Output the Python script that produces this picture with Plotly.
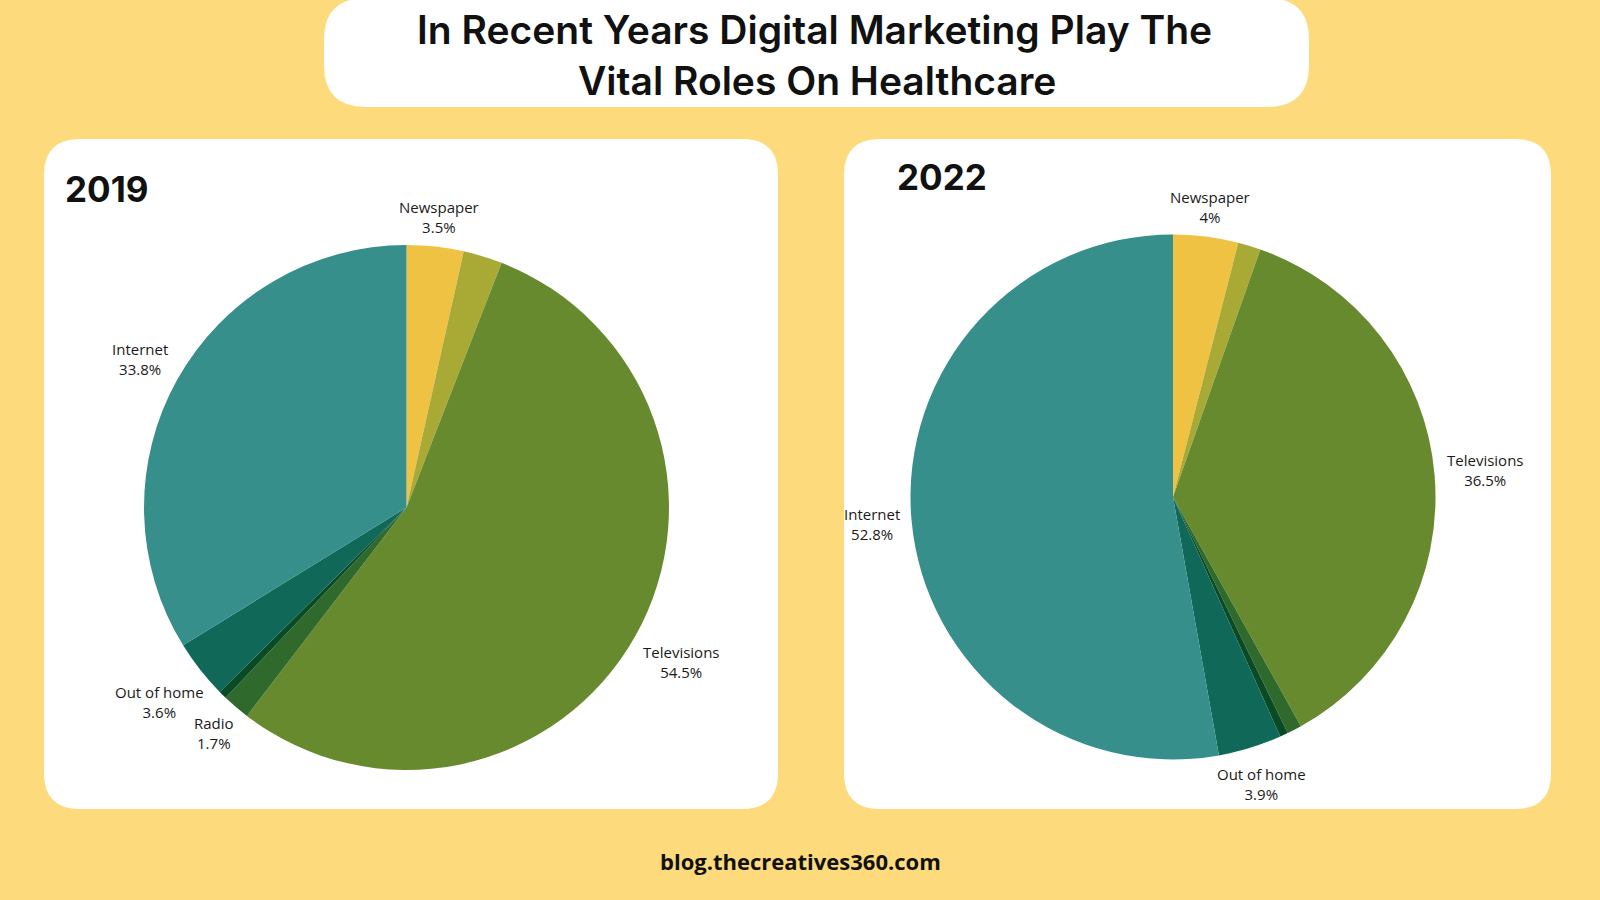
import math
import plotly.graph_objects as go

W, H = 1600, 900

# ---- data ----
categories = ["Newspaper", "Magazines", "Televisions", "Radio", "Others", "Out of home", "Internet"]
values_2019 = [3.5, 2.4, 54.5, 1.7, 0.5, 3.6, 33.8]
values_2022 = [4, 1.4, 36.5, 0.9, 0.5, 3.9, 52.8]
labeled_2019 = [True, False, True, True, False, True, True]
labeled_2022 = [True, False, True, False, False, True, True]
colors = ["#F0C244", "#A9AA36", "#688A2F", "#2F6A2C", "#0A4A25", "#106858", "#368F8B"]

title_lines = ["In Recent Years Digital Marketing Play The", "Vital Roles On Healthcare"]
footer = "blog.thecreatives360.com"

BG = "#FDDB7D"

# pie geometry (pixels)
PIE_2019 = (406.5, 507.5, 262.5)
PIE_2022 = (1173.0, 497.0, 262.5)


def px_x(x):
    return x / W


def px_y(y):
    return 1 - y / H


def rounded_rect(x0, y0, x1, y1, r):
    X = px_x
    Y = px_y
    p = (
        f"M {X(x0 + r)} {Y(y0)} L {X(x1 - r)} {Y(y0)} "
        f"Q {X(x1)} {Y(y0)} {X(x1)} {Y(y0 + r)} "
        f"L {X(x1)} {Y(y1 - r)} Q {X(x1)} {Y(y1)} {X(x1 - r)} {Y(y1)} "
        f"L {X(x0 + r)} {Y(y1)} Q {X(x0)} {Y(y1)} {X(x0)} {Y(y1 - r)} "
        f"L {X(x0)} {Y(y0 + r)} Q {X(x0)} {Y(y0)} {X(x0 + r)} {Y(y0)} Z"
    )
    return dict(type="path", path=p, xref="paper", yref="paper",
                fillcolor="white", line=dict(width=0), layer="below")


def pie_domain(cx, cy, r):
    return dict(x=[px_x(cx - r), px_x(cx + r)], y=[px_y(cy + r), px_y(cy - r)])


label_font = dict(family="Open Sans, sans-serif", size=15, color="#1a1a1a")


def slice_labels(vals, flags, geom):
    """Outside labels placed along each slice's mid-angle (clockwise from 12 o'clock)."""
    cx, cy, r = geom
    total = sum(vals)
    cum = 0.0
    anns = []
    for c, v, f in zip(categories, vals, flags):
        theta = 2 * math.pi * (cum + v / 2) / total
        cum += v
        if not f:
            continue
        txt = f"{c}<br>{v:g}%"
        hw = 7.5 * max(len(c), len(f"{v:g}%")) / 2
        hh = 18
        d = r + 8 + abs(math.sin(theta)) * hw + abs(math.cos(theta)) * hh
        x = cx + d * math.sin(theta)
        y = cy - d * math.cos(theta)
        anns.append(dict(text=txt, x=px_x(x), y=px_y(y), xref="paper", yref="paper",
                         showarrow=False, xanchor="center", yanchor="middle",
                         align="center", font=label_font))
    return anns


fig = go.Figure()
for vals, geom in ((values_2019, PIE_2019), (values_2022, PIE_2022)):
    fig.add_trace(go.Pie(
        labels=categories, values=vals, textinfo="none", sort=False,
        direction="clockwise", rotation=0,
        marker=dict(colors=colors, line=dict(width=0)),
        hoverinfo="label+percent", showlegend=False,
        domain=pie_domain(*geom),
    ))

shapes = [
    rounded_rect(324, -2, 1309, 107, 42),
    rounded_rect(44, 139, 778, 809, 36),
    rounded_rect(844, 139, 1551, 809, 36),
]

title_font = dict(family="Inter, sans-serif", size=39, color="#111111", weight=600)
year_font = dict(family="Inter, sans-serif", size=35, color="#111111", weight=700)
annotations = [
    dict(text=title_lines[0], x=px_x(814), y=px_y(30), xref="paper", yref="paper",
         showarrow=False, font=title_font, xanchor="center", yanchor="middle"),
    dict(text=title_lines[1], x=px_x(817), y=px_y(80), xref="paper", yref="paper",
         showarrow=False, font=title_font, xanchor="center", yanchor="middle"),
    dict(text="2019", x=px_x(63), y=px_y(189), xref="paper", yref="paper",
         showarrow=False, xanchor="left", yanchor="middle", font=year_font),
    dict(text="2022", x=px_x(895), y=px_y(177), xref="paper", yref="paper",
         showarrow=False, xanchor="left", yanchor="middle", font=year_font),
    dict(text=footer, x=0.5, y=px_y(861), xref="paper", yref="paper",
         showarrow=False, xanchor="center", yanchor="middle",
         font=dict(family="Open Sans, sans-serif", size=22, color="#111111", weight=700)),
]
annotations += slice_labels(values_2019, labeled_2019, PIE_2019)
annotations += slice_labels(values_2022, labeled_2022, PIE_2022)

fig.update_layout(
    width=W, height=H, margin=dict(l=0, r=0, t=0, b=0),
    paper_bgcolor=BG, plot_bgcolor=BG,
    shapes=shapes, annotations=annotations,
)

fig.write_html("out.html")
